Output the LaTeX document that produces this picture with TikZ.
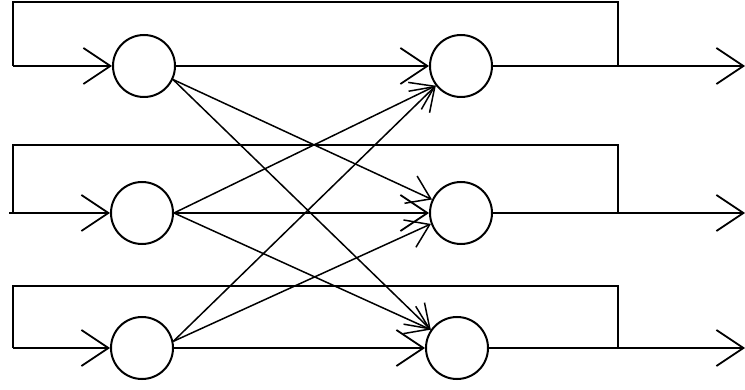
\documentclass[tikz,border=0pt]{standalone}
\usetikzlibrary{arrows.meta}
\begin{document}
\begin{tikzpicture}[x=1pt,y=-1pt,
  line width=2pt,
  unit/.style={circle,draw,line width=2pt,minimum size=62pt,inner sep=0pt},
  arr/.style={-{Straight Barb[length=27pt,width=36pt,line width=1.8pt]}},
  darr/.style={-{Straight Barb[length=22pt,width=30pt,line width=1.5pt]},line width=1.5pt}]
\useasboundingbox (0,0) rectangle (745,390);
% nodes
\node[unit] (a1) at (144,66) {};
\node[unit] (b1) at (461,66) {};
\node[unit] (a2) at (142,213) {};
\node[unit] (b2) at (461,213) {};
\node[unit] (a3) at (142,348) {};
\node[unit] (b3) at (457,348) {};
% loop corners
\coordinate (l1) at (13,66);  \coordinate (lt1) at (13,2);   \coordinate (rt1) at (618,2);   \coordinate (r1) at (618,66);
\coordinate (l2) at (9,213);  \coordinate (lt2) at (13,145); \coordinate (rt2) at (618,145); \coordinate (r2) at (618,213);
\coordinate (l3) at (13,348); \coordinate (lt3) at (13,286); \coordinate (rt3) at (618,286); \coordinate (r3) at (618,348);
\coordinate (o1) at (745,66); \coordinate (o2) at (745,213); \coordinate (o3) at (745,348);
% feedback loops
\draw (l1) -- (lt1) -- (rt1) -- (r1);
\draw (13,213) -- (lt2) -- (rt2) -- (r2);
\draw (l3) -- (lt3) -- (rt3) -- (r3);
% inputs
\draw[arr] (l1) -- (a1.west);
\draw[arr] (l2) -- (a2.west);
\draw[arr] (l3) -- (a3.west);
% straight connections
\draw[arr] (a1.east) -- (b1.west);
\draw[arr] (a2.east) -- (b2.west);
\draw[arr] (a3.east) -- (b3.west);
% outputs
\draw[arr] (b1.east) -- (o1);
\draw[arr] (b2.east) -- (o2);
\draw[arr] (b3.east) -- (o3);
% cross connections
\draw[darr] (a1.-25) -- (b2.155);
\draw[darr] (a1.-25) -- (b3.145);
\draw[darr] (a2.east) -- (b1.218);
\draw[darr] (a2.east) -- (b3.145);
\draw[darr] (a3.12) -- (b1.218);
\draw[darr] (a3.12) -- (b2.200);
\end{tikzpicture}
\end{document}
